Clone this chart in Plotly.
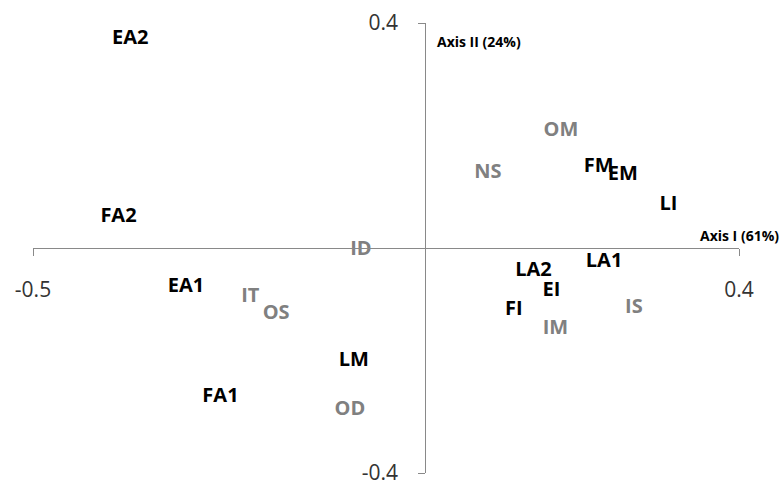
import plotly.graph_objects as go

# Main (black) labels
main_labels = ["EA2", "FA2", "EA1", "FA1", "LM", "FM", "EM", "LI", "LA2", "LA1", "EI", "FI"]
main_x = [-0.376, -0.391, -0.305, -0.261, -0.091, 0.221, 0.252, 0.310, 0.138, 0.228, 0.161, 0.113]
main_y = [0.372, 0.055, -0.069, -0.265, -0.201, 0.144, 0.130, 0.076, -0.041, -0.025, -0.077, -0.110]

# Supplementary (grey) labels
sup_labels = ["OM", "NS", "ID", "IT", "OS", "OD", "IM", "IS"]
sup_x = [0.173, 0.080, -0.082, -0.223, -0.190, -0.096, 0.166, 0.266]
sup_y = [0.208, 0.133, -0.004, -0.087, -0.117, -0.288, -0.144, -0.107]

x_range = [-0.5, 0.4]
y_range = [-0.4, 0.4]
x_ticks = [-0.5, 0.4]
y_ticks = [-0.4, 0.4]
x_title = "Axis I (61%)"
y_title = "Axis II (24%)"

FONT = "Open Sans"
AXIS_COLOR = "#898989"

fig = go.Figure()
fig.add_trace(go.Scatter(
    x=main_x, y=main_y, text=main_labels, mode="text",
    textposition="middle center",
    textfont=dict(family=FONT, size=20, color="#000000", weight="bold"),
    hoverinfo="text", showlegend=False,
))
fig.add_trace(go.Scatter(
    x=sup_x, y=sup_y, text=sup_labels, mode="text",
    textposition="middle center",
    textfont=dict(family=FONT, size=20, color="#808080", weight="bold"),
    hoverinfo="text", showlegend=False,
))

# position of the crossing axes (zero) in normalized plot coordinates
x_zero_frac = (0 - x_range[0]) / (x_range[1] - x_range[0])
y_zero_frac = (0 - y_range[0]) / (y_range[1] - y_range[0])

fig.update_layout(
    width=784, height=483,
    margin=dict(l=33, r=45, t=23, b=10, autoexpand=False),
    paper_bgcolor="white", plot_bgcolor="white",
    font=dict(family=FONT, color="#333333"),
    xaxis=dict(
        range=x_range, showgrid=False, zeroline=False, automargin=False,
        anchor="free", position=y_zero_frac,
        showline=True, linecolor=AXIS_COLOR, linewidth=1,
        ticks="outside", ticklen=7, tickcolor=AXIS_COLOR, tickwidth=1,
        tickvals=x_ticks, ticktext=[str(v) for v in x_ticks],
        tickfont=dict(family=FONT, size=21, color="#333333"),
        ticklabelstandoff=16, ticklabeloverflow="allow",
    ),
    yaxis=dict(
        range=y_range, showgrid=False, zeroline=False, automargin=False,
        anchor="free", position=x_zero_frac,
        showline=True, linecolor=AXIS_COLOR, linewidth=1,
        ticks="outside", ticklen=7, tickcolor=AXIS_COLOR, tickwidth=1,
        tickvals=y_ticks, ticktext=[str(v) for v in y_ticks],
        tickfont=dict(family=FONT, size=21, color="#333333"),
        ticklabelstandoff=16, ticklabeloverflow="allow",
    ),
    annotations=[
        dict(x=0, y=y_range[1], xref="x", yref="y", text="<b>" + y_title + "</b>",
             showarrow=False, xanchor="left", yanchor="top", xshift=10, yshift=-7,
             font=dict(family=FONT, size=14, color="#000000")),
        dict(x=x_range[1], y=0, xref="x", yref="y", text="<b>" + x_title + "</b>",
             showarrow=False, xanchor="right", yanchor="bottom", xshift=42, yshift=1,
             font=dict(family=FONT, size=14, color="#000000")),
    ],
)

fig.write_html("out.html", config={"displayModeBar": False},
               post_script="document.body.style.margin='0';")
